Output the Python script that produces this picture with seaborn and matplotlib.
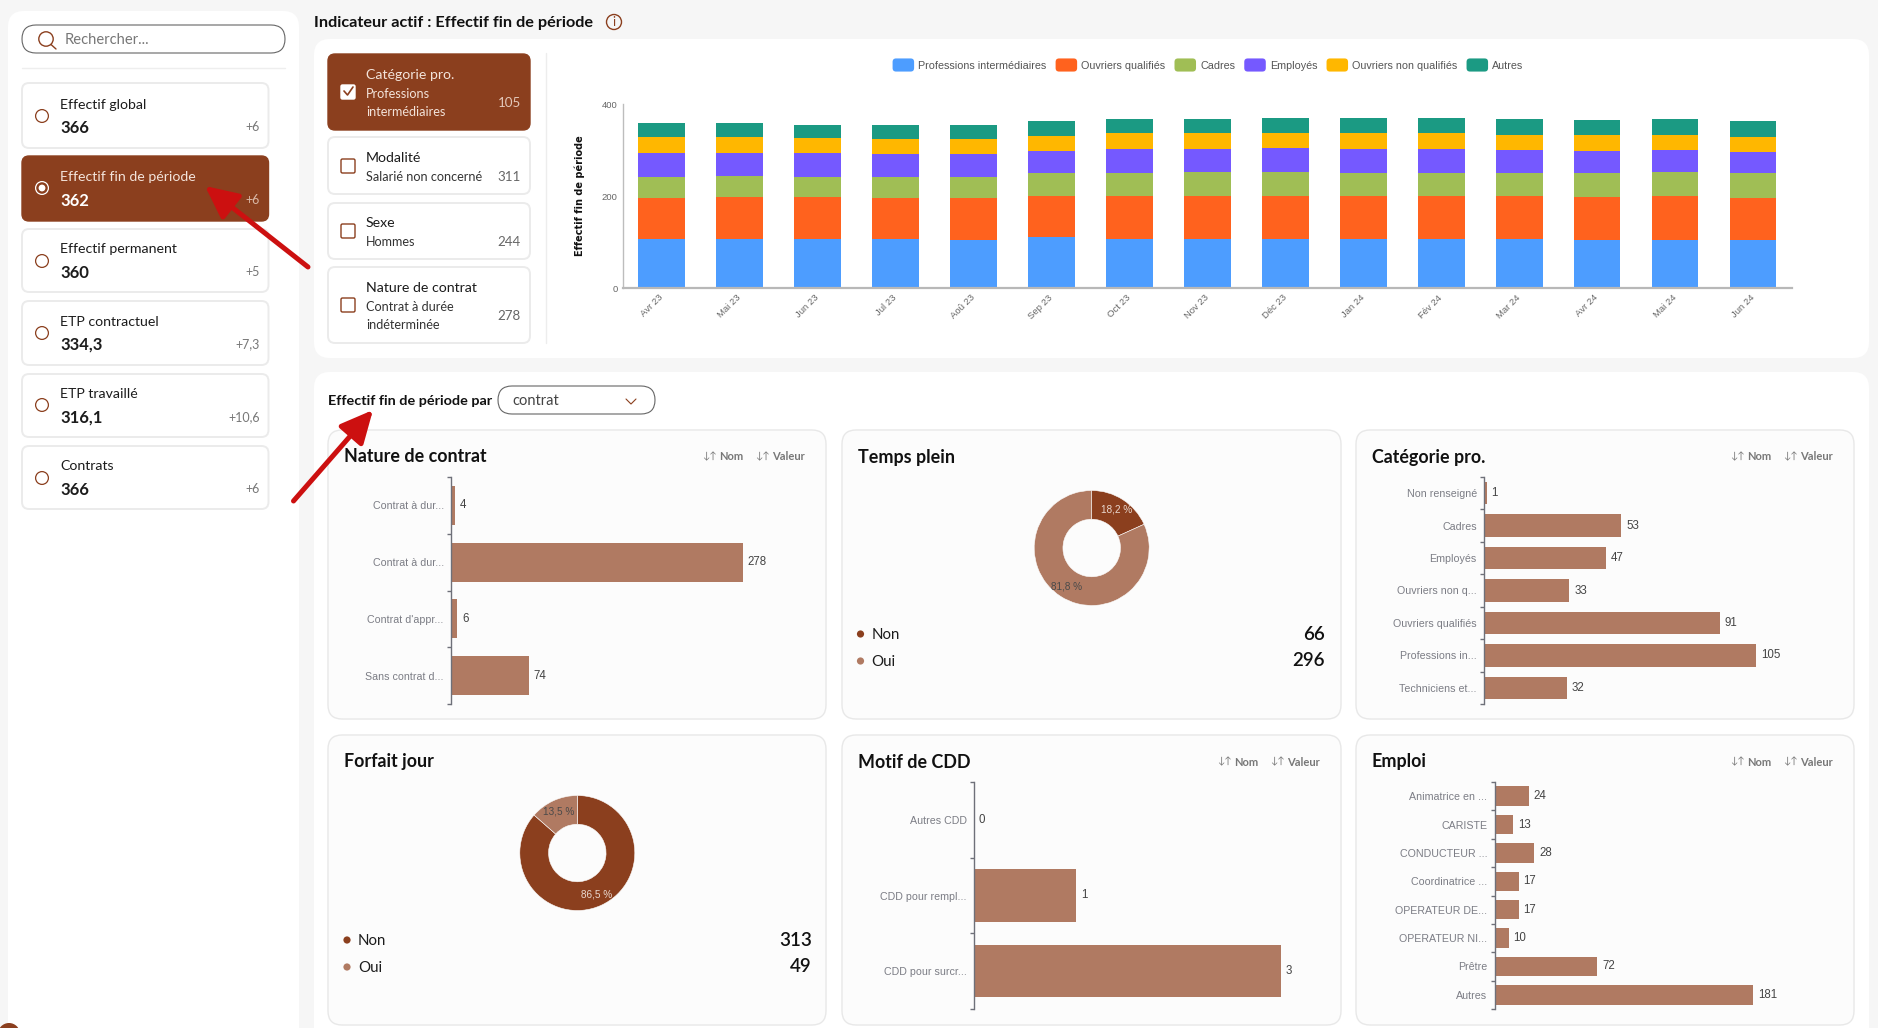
"""
Dashboard RH : effectif fin de periode
"""
import numpy as np
import matplotlib
matplotlib.use("Agg")
import matplotlib.pyplot as plt
from matplotlib.legend_handler import HandlerPatch
from matplotlib.patches import FancyBboxPatch, FancyArrowPatch, Circle, Patch
import seaborn as sns

# stacked chart
mois = ["Avr 23", "Mai 23", "Jun 23", "Jul 23", "Aoû 23", "Sep 23", "Oct 23", "Nov 23",
        "Déc 23", "Jan 24", "Fév 24", "Mar 24", "Avr 24", "Mai 24", "Jun 24"]
series_noms = ["Professions intermédiaires", "Ouvriers qualifiés", "Cadres", "Employés",
               "Ouvriers non qualifiés", "Autres"]
professions = [107, 107, 107, 107, 105, 110, 107, 107, 107, 107, 107, 106, 105, 105, 105]
ouvriers_q = [89, 91, 90, 89, 90, 90, 93, 93, 93, 92, 92, 93, 93, 94, 91]
cadres = [46, 45, 45, 46, 46, 49, 51, 52, 53, 52, 52, 51, 51, 53, 53]
employes = [51, 51, 52, 50, 51, 49, 52, 51, 52, 52, 52, 51, 49, 48, 47]
ouvriers_nq = [35, 34, 32, 32, 32, 33, 33, 34, 33, 33, 33, 31, 34, 32, 33]
autres = [30, 30, 29, 31, 31, 31, 32, 31, 31, 33, 34, 36, 33, 35, 33]
series_couleurs = ["#4D9DFF", "#FF621E", "#A0BE55", "#7559FF", "#FFB700", "#1B9A83"]

# horizontal bars
contrat_labels = ["Contrat à dur...", "Contrat à dur...", "Contrat d'appr...", "Sans contrat d..."]
contrat_values = [4, 278, 6, 74]
categorie_labels = ["Non renseigné", "Cadres", "Employés", "Ouvriers non q...",
                    "Ouvriers qualifiés", "Professions in...", "Techniciens et..."]
categorie_values = [1, 53, 47, 33, 91, 105, 32]
motif_labels = ["Autres CDD", "CDD pour rempl...", "CDD pour surcr..."]
motif_values = [0, 1, 3]
emploi_labels = ["Animatrice en ...", "CARISTE", "CONDUCTEUR ...", "Coordinatrice ...",
                 "OPERATEUR DE...", "OPERATEUR NI...", "Prêtre", "Autres"]
emploi_values = [24, 13, 28, 17, 17, 10, 72, 181]

# donuts
temps_plein_values = [66, 296]
forfait_values = [313, 49]
donut_labels = ["Non", "Oui"]

# side cards
indicateurs = ["Effectif global", "Effectif fin de période", "Effectif permanent",
               "ETP contractuel", "ETP travaillé", "Contrats"]
indicateurs_val = ["366", "362", "360", "334,3", "316,1", "366"]
indicateurs_delta = ["+6", "+6", "+5", "+7,3", "+10,6", "+6"]

BRUN = "#8B3F1E"
BARRE = "#B07A62"
W, H = 1878, 1028

sns.set_theme(style="white")
plt.rcParams["font.family"] = ["Lato", "DejaVu Sans"]

fig = plt.figure(figsize=(W / 100, H / 100), dpi=100, facecolor="#F6F6F6")
ui = fig.add_axes([0, 0, 1, 1], zorder=0)
ui.set_xlim(0, W)
ui.set_ylim(H, 0)
ui.axis("off")


def box(x0, y0, x1, y1, r=8, fc="white", ec="none", lw=1.0):
    ui.add_patch(FancyBboxPatch((x0, y0), x1 - x0, y1 - y0, boxstyle=f"round,pad=0,rounding_size={r}",
                                fc=fc, ec=ec, lw=lw))


def txt(x, y, s, size=10.5, color="#1c1c1c", weight="normal", ha="left"):
    ui.text(x, y + 1, s, fontsize=size, color=color, fontweight=weight, ha=ha, va="center")


def axes_px(x0, y0, x1, y1):
    ax = fig.add_axes([x0 / W, 1 - y1 / H, (x1 - x0) / W, (y1 - y0) / H], zorder=2)
    ax.patch.set_alpha(0)
    return ax


def tri(x, y):
    # "Nom" / "Valeur" sort buttons
    txt(x, y, "↓↑", 7, "#777777")
    txt(x + 17, y, "Nom", 8, "#777777", "bold")
    txt(x + 53, y, "↓↑", 7, "#777777")
    txt(x + 70, y, "Valeur", 8, "#777777", "bold")


def hbars(rect, labels, values):
    ax = axes_px(*rect)
    n = len(values)
    sns.barplot(x=values, y=np.arange(n), orient="h", color=BARRE, saturation=1, width=0.69,
                linewidth=0, ax=ax)
    ax.set_xlim(0, max(values))
    ax.set_ylim(n - 0.5, -0.5)
    ax.set_xlabel("")
    ax.set_ylabel("")
    ax.set_xticks([])
    ax.set_yticks(np.arange(-0.5, n), labels=[""] * (n + 1))
    ax.set_yticks(np.arange(n), labels=labels, minor=True)
    ax.tick_params(axis="y", which="major", left=True, length=3.2, width=1, color="#6E7079")
    ax.tick_params(axis="y", which="minor", left=False, length=0, pad=5.2, labelsize=7.7,
                   labelcolor="#7C7D85")
    for lab in ax.get_yticklabels(minor=True):
        lab.set_family("Liberation Sans")
    sns.despine(ax=ax, bottom=True)
    ax.spines["left"].set_color("#6E7079")
    ax.spines["left"].set_linewidth(1)
    for c in ax.containers:
        ax.bar_label(c, labels=[str(v) for v in values], padding=3.4, fontsize=8.3, color="#444444",
                     family="Liberation Sans", clip_on=False)
    return ax


def donut(cx, cy, values):
    R = 57.5
    ax = axes_px(cx - R, cy - R, cx + R, cy + R)
    wedges, _, pcts = ax.pie(values, colors=[BRUN, BARRE], startangle=90, counterclock=False,
                             radius=1, pctdistance=0.8,
                             autopct=lambda p: f"{p:.1f} %".replace(".", ","),
                             wedgeprops=dict(width=0.5, edgecolor="#FCFCFC", linewidth=0.4),
                             textprops=dict(fontsize=7.2, family="Liberation Sans"))
    pcts[0].set_color("#E9D9D0")
    pcts[1].set_color("#4A4A4A")
    ax.set_xlim(-1, 1)
    ax.set_ylim(-1, 1)


def donut_legend(x_dot, x_num, y0, values):
    for i, (lab, v, col) in enumerate(zip(donut_labels, values, [BRUN, BARRE])):
        y = y0 + i * 27
        ui.add_patch(Circle((x_dot, y), 3.6, fc=col, ec="none"))
        txt(x_dot + 11, y, lab, 10.8)
        txt(x_num, y - 1, str(v), 13.5, "#111111", "semibold", ha="right")


def poignee_arrondie(legend, orig_handle, xdescent, ydescent, width, height, fontsize):
    return FancyBboxPatch((-xdescent, -ydescent), width, height, boxstyle="round,pad=0,rounding_size=2.5",
                          fc=orig_handle.get_facecolor(), ec="none")


# panels
box(8, 11, 299, 1060, r=16)
box(314, 39, 1869, 358, r=16)
box(314, 372, 1869, 1060, r=16)
ui.add_patch(Circle((9, 1034), 11, fc=BRUN, ec="none"))

# search
box(22, 25, 285, 53, r=14, fc="white", ec="#666666", lw=0.8)
ui.add_patch(Circle((46, 39), 7.2, fc="none", ec=BRUN, lw=1))
ui.plot([51, 56], [44.5, 49], color=BRUN, lw=1)
txt(65, 39, "Rechercher...", 10.6, "#777777")
ui.plot([22, 285], [68, 68], color="#EEEEEE", lw=1)

# indicator cards
cartes = [(83, 148), (156, 221), (229, 292), (301, 365), (374, 437), (446, 509)]
y_titre = [104, 176, 248, 321, 393, 465]
y_val = [127, 200, 272, 344, 417, 489]
y_radio = [116, 188, 261, 333, 405, 478]
for i, (y0, y1) in enumerate(cartes):
    actif = i == 1
    box(22, y0, 268.5, y1, r=7, fc=BRUN if actif else "white", ec=BRUN if actif else "#EBEBEB",
        lw=1 if actif else 1.4)
    txt(60, y_titre[i], indicateurs[i], 10.2, "#F3E3DA" if actif else "#1c1c1c")
    txt(60, y_val[i], indicateurs_val[i], 12, "white" if actif else "#1c1c1c", "bold")
    txt(260, y_val[i] - 1, indicateurs_delta[i], 9, "#D9B9A8" if actif else "#777777", ha="right")
    ui.add_patch(Circle((42, y_radio[i]), 6.4, fc="none", ec="white" if actif else BRUN, lw=0.9))
    if actif:
        ui.add_patch(Circle((42, y_radio[i]), 3.4, fc="white", ec="none"))

# header
txt(314, 22, "Indicateur actif : Effectif fin de période", 11.7, "#111111", "bold")
ui.add_patch(Circle((614, 22), 7.5, fc="none", ec=BRUN, lw=1))
txt(614, 21, "i", 9, BRUN, ha="center")

# filter cards
filtres = [(54, 130, "Catégorie pro.", ["Professions", "intermédiaires"], "105", 74, [93, 111], 102, 92),
           (137, 194, "Modalité", ["Salarié non concerné"], "311", 157, [176], 176, 166),
           (203, 259, "Sexe", ["Hommes"], "244", 222, [241], 241, 231),
           (267, 343, "Nature de contrat", ["Contrat à durée", "indéterminée"], "278", 287, [306, 324], 315, 305)]
for i, (y0, y1, titre, sous, val, yt, ys, yv, yc) in enumerate(filtres):
    actif = i == 0
    box(328, y0, 530, y1, r=7, fc=BRUN if actif else "white", ec=BRUN if actif else "#EBEBEB",
        lw=1 if actif else 1.4)
    txt(366, yt, titre, 10.2, "#F3E3DA" if actif else "#1c1c1c")
    for s, y in zip(sous, ys):
        txt(366, y, s, 9.1, "#F3E3DA" if actif else "#333333")
    txt(521, yv, val, 9.6, "#E3C8BA" if actif else "#666666", ha="right")
    box(341, yc - 7, 355, yc + 7, r=1.5, fc="white", ec="white" if actif else BRUN, lw=1)
    if actif:
        ui.plot([344, 347.5, 353], [yc - 1, yc + 3, yc - 5], color=BRUN, lw=1.2)
ui.plot([546, 546], [53, 343], color="#EDEDED", lw=1)

# stacked bars
ax = axes_px(622.5, 104, 1792, 288)
bas = np.zeros(len(mois))
for nom, vals, col in zip(series_noms, [professions, ouvriers_q, cadres, employes, ouvriers_nq, autres],
                          series_couleurs):
    sns.barplot(x=mois, y=vals, bottom=bas, color=col, saturation=1, width=0.6, linewidth=0, ax=ax)
    bas = bas + np.array(vals)
ax.set_ylim(0, 400)
ax.set_xlim(-0.5, 14.5)
ax.set_yticks([0, 200, 400])
ax.set_ylabel("Effectif fin de période", fontsize=7.0, fontweight="bold", family="DejaVu Sans",
              color="#111111", labelpad=12)
ax.set_xlabel("")
ax.tick_params(axis="y", left=False, length=0, pad=3.5, labelsize=6.8, labelcolor="#666666")
ax.tick_params(axis="x", bottom=False, length=0, pad=6, labelsize=6.8, labelcolor="#666666")
for lab in ax.get_xticklabels() + ax.get_yticklabels():
    lab.set_family("Liberation Sans")
plt.setp(ax.get_xticklabels(), rotation=45, ha="right", va="center", rotation_mode="anchor")
sns.despine(ax=ax)
ax.spines["left"].set_color("#BDBDBD")
ax.spines["left"].set_linewidth(1)
ax.spines["bottom"].set_color("#B8B8B8")
ax.spines["bottom"].set_linewidth(1.6)
poignees = [Patch(fc=c, ec="none", label=n) for n, c in zip(series_noms, series_couleurs)]
leg = ax.legend(handles=poignees, ncol=6, loc="center", bbox_transform=fig.transFigure,
                bbox_to_anchor=(1208 / W, 1 - 65 / H), frameon=False,
                prop=dict(family="Liberation Sans", size=7.75), labelcolor="#555555",
                handlelength=2.0, handleheight=1.5, handletextpad=0.38, columnspacing=0.85,
                borderpad=0, handler_map={Patch: HandlerPatch(patch_func=poignee_arrondie)})

# second panel
txt(328, 400, "Effectif fin de période par", 10.35, "#111111", "bold")
box(498, 386, 655, 414, r=14, fc="white", ec="#666666", lw=0.8)
txt(512, 400, "contrat", 10.5, "#444444")
ui.plot([626, 631, 636], [399, 404, 399], color=BRUN, lw=0.8)

cartes_bas = [(328, 430, 826, 719, "Nature de contrat", True), (842, 430, 1341, 719, "Temps plein", False),
              (1356, 430, 1854, 719, "Catégorie pro.", True), (328, 735, 826, 1025, "Forfait jour", False),
              (842, 735, 1341, 1025, "Motif de CDD", True), (1356, 735, 1854, 1025, "Emploi", True)]
for x0, y0, x1, y1, titre, boutons in cartes_bas:
    box(x0, y0, x1, y1, r=14, fc="#FCFCFC", ec="#E8E8E8", lw=1)
    txt(x0 + 15.5, y0 + 26, titre, 12.9, "#111111", "bold")
    if boutons:
        tri(x1 - 124, y0 + 26)

hbars((451, 477, 743, 704), contrat_labels, contrat_values)
hbars((1484, 477, 1756, 704), categorie_labels, categorie_values)
hbars((974, 782, 1281, 1009), motif_labels, motif_values)
hbars((1494.5, 782, 1753, 1009), emploi_labels, emploi_values)

donut(1091.7, 548, temps_plein_values)
donut(577.3, 853, forfait_values)
donut_legend(860.5, 1325, 634, temps_plein_values)
donut_legend(347, 812, 940, forfait_values)

# red arrows
for tail, tip in [((308, 267), (205, 186)), ((293.5, 501), (373, 410))]:
    ui.add_patch(FancyArrowPatch(tail, tip, arrowstyle="-|>,head_length=0.52,head_width=0.25",
                                 mutation_scale=38, lw=3.6, color="#CC1010", shrinkA=0, shrinkB=0,
                                 zorder=6))

fig.savefig("out.png", dpi=100, facecolor=fig.get_facecolor())
